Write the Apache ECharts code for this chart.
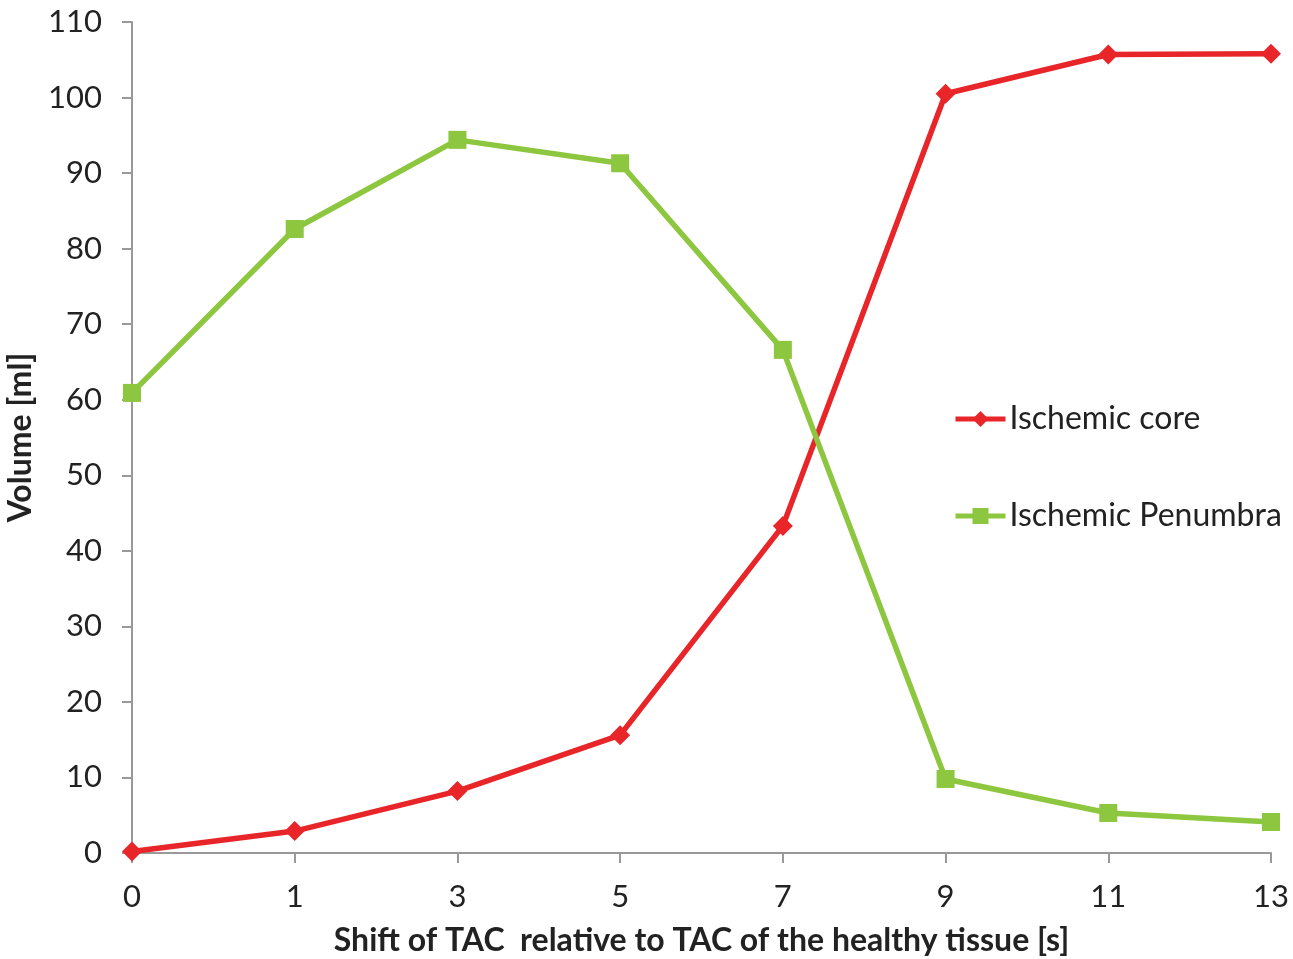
<!DOCTYPE html>
<html><head><meta charset="utf-8">
<script src="https://cdn.jsdelivr.net/npm/echarts@6/dist/echarts.min.js"></script>
<style>html,body{margin:0;padding:0;background:#fff}#c{width:1293px;height:959px}</style>
</head><body><div id="c"></div>
<script>
const categories = ['0','1','3','5','7','9','11','13'];
const coreValues = [0.2, 2.9, 8.2, 15.6, 43.3, 100.5, 105.7, 105.8];
const penumbraValues = [60.9, 82.6, 94.4, 91.3, 66.6, 9.8, 5.3, 4.1];
const seriesNames = ['Ischemic core', 'Ischemic Penumbra'];
const xTitle = 'Shift of TAC  relative to TAC of the healthy tissue [s]';
const yTitle = 'Volume [ml]';

const font = 'Lato, "Open Sans", sans-serif';
const chart = echarts.init(document.getElementById('c'));
chart.setOption({
  animation: false,
  backgroundColor: '#fff',
  grid: {left: 132, right: 22, top: 22, bottom: 106, containLabel: false, outerBoundsMode: 'none'},
  legend: {
    orient: 'vertical', left: 948, top: 398, itemGap: 65,
    itemWidth: 50, itemHeight: 20,
    lineStyle: {width: 5},
    textStyle: {fontFamily: font, fontSize: 32, color: '#222', padding: [0,0,0,-1]},
    data: seriesNames
  },
  xAxis: {
    type: 'category', data: categories, boundaryGap: false,
    axisLine: {lineStyle: {color: '#999', width: 2}},
    axisTick: {show: true, length: 10, lineStyle: {color: '#999', width: 2}, alignWithLabel: true},
    axisLabel: {fontFamily: font, fontSize: 31, color: '#222', margin: 28},
    name: xTitle, nameLocation: 'middle', nameGap: 72,
    nameTextStyle: {fontFamily: font, fontSize: 32, color: '#222', fontWeight: 'bold'}
  },
  yAxis: {
    type: 'value', min: 0, max: 110, interval: 10,
    splitLine: {show: false},
    axisLine: {show: true, lineStyle: {color: '#999', width: 2}},
    axisTick: {show: true, length: 10, lineStyle: {color: '#999', width: 2}},
    axisLabel: {fontFamily: font, fontSize: 31, color: '#222', margin: 30},
    name: yTitle, nameLocation: 'middle', nameGap: 95,
    nameTextStyle: {fontFamily: font, fontSize: 32, color: '#222', fontWeight: 'bold'}
  },
  series: [
    {name: seriesNames[0], type: 'line', data: coreValues,
     symbol: 'diamond', symbolSize: 20,
     lineStyle: {color: '#e8262a', width: 5.5}, itemStyle: {color: '#e8262a'}},
    {name: seriesNames[1], type: 'line', data: penumbraValues,
     symbol: 'rect', symbolSize: 18,
     lineStyle: {color: '#8dc63f', width: 5.5}, itemStyle: {color: '#8dc63f'}}
  ]
});
</script></body></html>
